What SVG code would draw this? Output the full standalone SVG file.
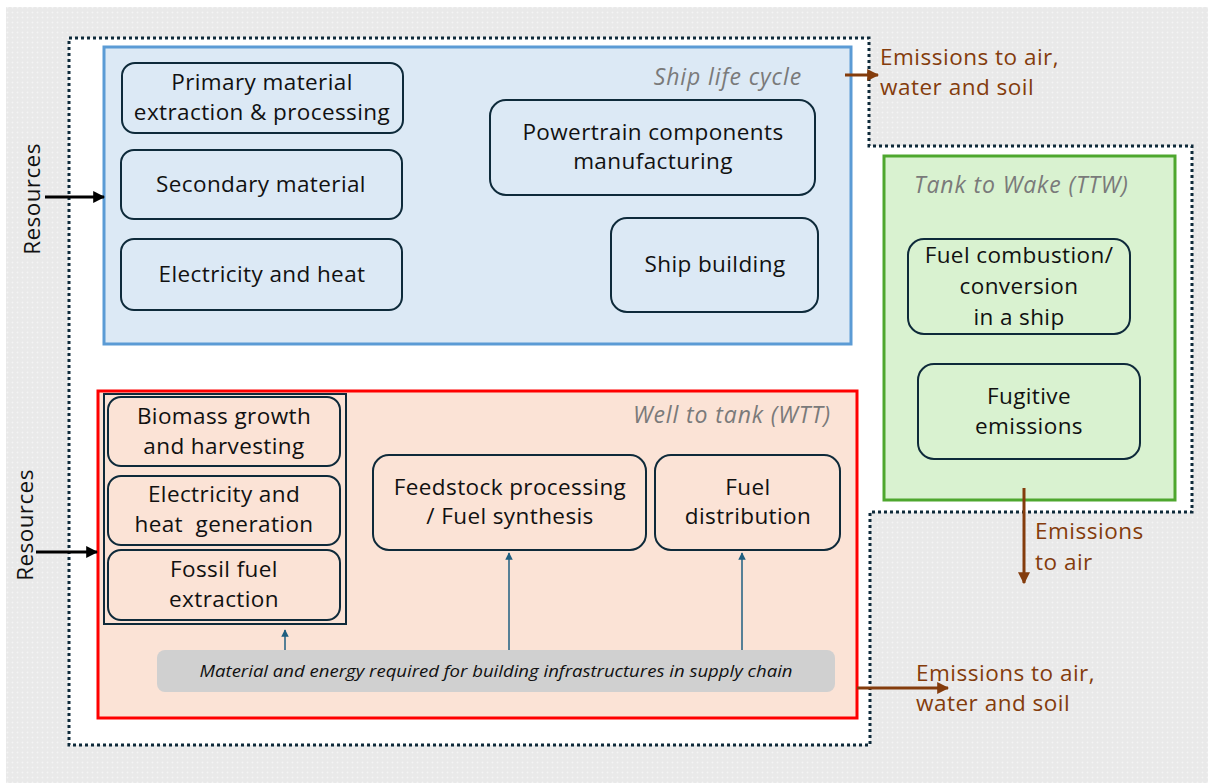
<svg xmlns="http://www.w3.org/2000/svg" width="1208" height="783" viewBox="0 0 1208 783">
  <defs>
    <pattern id="dots" width="5" height="5" patternUnits="userSpaceOnUse">
      <rect width="5" height="5" fill="#e9e9e9"/>
      <circle cx="2.5" cy="2.5" r="1" fill="#f4f4f4"/>
    </pattern>
    <marker id="arrBlack" viewBox="0 0 10 10" refX="9" refY="5" markerWidth="4" markerHeight="4" orient="auto" markerUnits="strokeWidth">
      <path d="M0,0 L10,5 L0,10 z" fill="#000"/>
    </marker>
    <marker id="arrBrown" viewBox="0 0 10 10" refX="9" refY="5" markerWidth="4" markerHeight="4" orient="auto" markerUnits="strokeWidth">
      <path d="M0,0 L10,5 L0,10 z" fill="#843c0c"/>
    </marker>
    <marker id="arrTeal" viewBox="0 0 10 10" refX="9" refY="5" markerWidth="5" markerHeight="5" orient="auto" markerUnits="strokeWidth">
      <path d="M0,0 L10,5 L0,10 z" fill="#1f5f80"/>
    </marker>
  </defs>
  <style>
    text { font-family: "Open Sans", "Liberation Sans", Arial, sans-serif; }
    .node { stroke: #0e2a3a; stroke-width: 2; }
    .blueNode { fill: #dce9f5; }
    .redNode { fill: #fbe3d6; }
    .greenNode { fill: #d9f2d0; }
    .lbl { font-size: 22.5px; letter-spacing: 0.4px; fill: #111; text-anchor: middle; }
    .title { font-size: 23px; letter-spacing: 0.9px; fill: #7a7a7a; font-style: italic; }
    .emis { font-size: 22.5px; letter-spacing: 0.5px; fill: #843c0c; }
    .res { font-size: 22.5px; letter-spacing: 0.4px; fill: #111; text-anchor: middle; }
  </style>

  <!-- page background -->
  <rect x="0" y="0" width="1208" height="783" fill="#ffffff"/>
  <rect x="6" y="7" width="1202" height="776" fill="url(#dots)"/>

  <!-- system boundary -->
  <path d="M69,38 H869 V146 H1192 V512 H870 V745 H69 Z" fill="#ffffff" stroke="#0e2a3a" stroke-width="3" stroke-dasharray="3,3"/>

  <!-- Ship life cycle -->
  <g id="ship-life-cycle">
    <rect x="104" y="47" width="747" height="297" fill="#dce9f5" stroke="#5b9bd5" stroke-width="3"/>
    <text class="title" x="802" y="85" text-anchor="end">Ship life cycle</text>
  </g>
  <g id="primary-material">
    <rect class="node blueNode" x="122" y="63" width="281" height="70" rx="13"/>
    <text class="lbl" x="262" y="90">Primary material</text>
    <text class="lbl" x="262" y="120">extraction &amp; processing</text>
  </g>
  <g id="secondary-material">
    <rect class="node blueNode" x="121" y="150" width="281" height="69" rx="13"/>
    <text class="lbl" x="261" y="192">Secondary material</text>
  </g>
  <g id="electricity-heat">
    <rect class="node blueNode" x="121" y="239" width="281" height="71" rx="13"/>
    <text class="lbl" x="262" y="282">Electricity and heat</text>
  </g>
  <g id="powertrain">
    <rect class="node blueNode" x="490" y="100" width="325" height="95" rx="16"/>
    <text class="lbl" x="653" y="140">Powertrain components</text>
    <text class="lbl" x="653" y="169">manufacturing</text>
  </g>
  <g id="ship-building">
    <rect class="node blueNode" x="611" y="218" width="207" height="94" rx="16"/>
    <text class="lbl" x="715" y="272">Ship building</text>
  </g>

  <!-- Tank to Wake -->
  <g id="ttw">
    <rect x="884" y="156" width="291" height="344" fill="#d9f2d0" stroke="#4ea72e" stroke-width="3"/>
    <text class="title" x="914" y="193">Tank to Wake (TTW)</text>
  </g>
  <g id="fuel-combustion">
    <rect class="node greenNode" x="908" y="239" width="222" height="95" rx="16"/>
    <text class="lbl" x="1019" y="263">Fuel combustion/</text>
    <text class="lbl" x="1019" y="294">conversion</text>
    <text class="lbl" x="1019" y="325">in a ship</text>
  </g>
  <g id="fugitive-emissions">
    <rect class="node greenNode" x="918" y="364" width="222" height="95" rx="16"/>
    <text class="lbl" x="1029" y="404">Fugitive</text>
    <text class="lbl" x="1029" y="434">emissions</text>
  </g>

  <!-- Well to tank -->
  <g id="wtt">
    <rect x="98" y="391" width="759" height="327" fill="#fbe3d6" stroke="#ff0000" stroke-width="3"/>
    <text class="title" x="831" y="423" text-anchor="end">Well to tank (WTT)</text>
  </g>
  <g id="upstream-group">
    <rect x="104" y="394" width="242" height="230" fill="none" stroke="#0e2a3a" stroke-width="2"/>
  </g>
  <g id="biomass">
    <rect class="node redNode" x="108" y="397" width="232" height="69" rx="13"/>
    <text class="lbl" x="224" y="424">Biomass growth</text>
    <text class="lbl" x="224" y="454">and harvesting</text>
  </g>
  <g id="electricity-heat-generation">
    <rect class="node redNode" x="108" y="476" width="232" height="69" rx="13"/>
    <text class="lbl" x="224" y="502">Electricity and</text>
    <text class="lbl" x="224" y="532" xml:space="preserve">heat  generation</text>
  </g>
  <g id="fossil-fuel">
    <rect class="node redNode" x="108" y="550" width="232" height="70" rx="13"/>
    <text class="lbl" x="224" y="577">Fossil fuel</text>
    <text class="lbl" x="224" y="607">extraction</text>
  </g>
  <g id="feedstock">
    <rect class="node redNode" x="373" y="455" width="273" height="95" rx="16"/>
    <text class="lbl" x="510" y="495">Feedstock processing</text>
    <text class="lbl" x="510" y="524">/ Fuel synthesis</text>
  </g>
  <g id="fuel-distribution">
    <rect class="node redNode" x="655" y="455" width="185" height="95" rx="16"/>
    <text class="lbl" x="748" y="495">Fuel</text>
    <text class="lbl" x="748" y="524">distribution</text>
  </g>
  <g id="infrastructure">
    <rect x="157" y="650" width="678" height="42" rx="8" fill="#d0d0d0"/>
    <text x="496" y="677" font-size="17" font-style="italic" fill="#111" text-anchor="middle" textLength="593" lengthAdjust="spacingAndGlyphs">Material and energy required for building infrastructures in supply chain</text>
  </g>

  <!-- Resources labels -->
  <g id="resources-top">
    <text class="res" transform="translate(40,199) rotate(-90)">Resources</text>
  </g>
  <g id="resources-bottom">
    <text class="res" transform="translate(33,525) rotate(-90)">Resources</text>
  </g>

  <!-- Emission labels -->
  <g id="emissions-ship">
    <text class="emis" x="880" y="65">Emissions to air,</text>
    <text class="emis" x="880" y="95">water and soil</text>
  </g>
  <g id="emissions-ttw">
    <text class="emis" x="1035" y="539">Emissions</text>
    <text class="emis" x="1035" y="570">to air</text>
  </g>
  <g id="emissions-wtt">
    <text class="emis" x="916" y="681">Emissions to air,</text>
    <text class="emis" x="916" y="711">water and soil</text>
  </g>

  <!-- connectors -->
  <g id="connectors" fill="none">
    <line x1="45" y1="197" x2="104" y2="197" stroke="#000" stroke-width="3" marker-end="url(#arrBlack)"/>
    <line x1="36" y1="552" x2="97" y2="552" stroke="#000" stroke-width="3" marker-end="url(#arrBlack)"/>
    <line x1="845" y1="75" x2="878" y2="75" stroke="#843c0c" stroke-width="3" marker-end="url(#arrBrown)"/>
    <line x1="1024" y1="488" x2="1024" y2="583" stroke="#843c0c" stroke-width="3" marker-end="url(#arrBrown)"/>
    <line x1="857" y1="688" x2="948" y2="688" stroke="#843c0c" stroke-width="3" marker-end="url(#arrBrown)"/>
    <line x1="285" y1="650" x2="285" y2="630" stroke="#1f5f80" stroke-width="1.5" marker-end="url(#arrTeal)"/>
    <line x1="509" y1="650" x2="509" y2="553" stroke="#1f5f80" stroke-width="1.5" marker-end="url(#arrTeal)"/>
    <line x1="742" y1="650" x2="742" y2="553" stroke="#1f5f80" stroke-width="1.5" marker-end="url(#arrTeal)"/>
  </g>
</svg>
